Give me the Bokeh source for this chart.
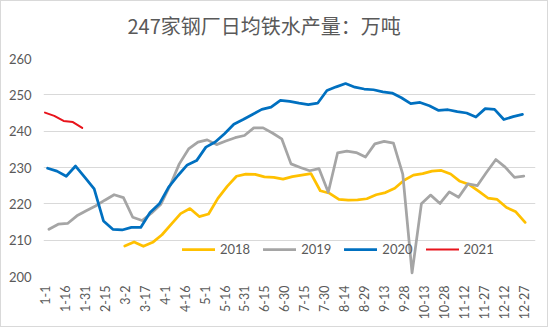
import math
from bokeh.plotting import figure
from bokeh.models import Range1d, FixedTicker, Legend, LegendItem
from bokeh.embed import file_html
from bokeh.resources import INLINE

title_text = "247家钢厂日均铁水产量：万吨"

x_labels = ["1-1", "1-16", "1-31", "2-15", "3-2", "3-17", "4-1", "4-16", "5-1",
            "5-16", "5-31", "6-15", "6-30", "7-15", "7-30", "8-14", "8-29", "9-13",
            "9-28", "10-13", "10-28", "11-12", "11-27", "12-12", "12-27"]
label_step_days = 15
y_ticks = [200, 210, 220, 230, 240, 250, 260]

# first weekly observation (day of year, 0 = Jan 1) for each series
start_day = {"2018": 60, "2019": 3, "2020": 2, "2021": 0}
week_days = 7

v2018 = [208.4, 209.5, 208.3, 209.4, 211.5, 214.4, 217.3, 218.7, 216.5, 217.2,
         221.5, 224.8, 227.6, 228.2, 228.1, 227.4, 227.3, 226.8, 227.5, 227.9,
         228.3, 223.6, 222.9, 221.2, 221.0, 221.1, 221.4, 222.5, 223.1, 224.3,
         226.5, 227.9, 228.3, 229.0, 229.2, 228.2, 226.2, 225.3, 223.5, 221.6,
         221.2, 219.0, 217.8, 214.9]
v2019 = [213.0, 214.4, 214.6, 216.7, 218.1, 219.4, 221.0, 222.5, 221.7, 216.3,
         215.4, 217.4, 219.8, 225.0, 231.0, 235.1, 237.0, 237.6, 236.3, 237.3,
         238.2, 238.8, 240.9, 240.9, 239.5, 237.9, 231.0, 230.0, 229.1, 229.7,
         223.2, 234.0, 234.5, 234.1, 232.9, 236.5, 237.2, 236.7, 228.2, 201.0,
         220.0, 222.4, 220.1, 223.3, 221.8, 225.5, 225.0, 228.7, 232.2, 230.1,
         227.3, 227.6]
v2020 = [229.8, 229.0, 227.6, 230.4, 227.3, 224.1, 215.3, 213.0, 212.8, 213.5,
         213.5, 217.6, 220.0, 224.6, 227.8, 230.7, 231.9, 235.6, 237.0, 239.3,
         241.9, 243.2, 244.6, 246.0, 246.6, 248.5, 248.2, 247.7, 247.3, 247.7,
         251.2, 252.2, 253.1, 252.1, 251.6, 251.4, 250.8, 250.5, 249.2, 247.6,
         247.9, 247.0, 245.7, 245.9, 245.4, 245.0, 243.9, 246.2, 246.0, 243.2,
         244.0, 244.6]
v2021 = [245.1, 244.2, 242.8, 242.5, 240.9]

series = [("2018", v2018, "#FFC000", 2.75),
          ("2019", v2019, "#A5A5A5", 2.75),
          ("2020", v2020, "#0070C0", 2.75),
          ("2021", v2021, "#E8141C", 2.0)]

FONT = "Lato"
GRAY = "#595959"

p = figure(width=548, height=327, output_backend="svg", toolbar_location=None,
           x_range=Range1d(-1.1, 368.8), y_range=Range1d(200, 260),
           min_border_left=42, min_border_right=14, min_border_top=57,
           min_border_bottom=52)
p.styles = {"border": "1px solid #d9d9d9"}
p.outline_line_color = None
p.background_fill_color = "white"
p.border_fill_color = "white"

p.title.text = title_text
p.title.align = "left"
p.title.text_font = "Noto Sans CJK SC"
p.title.text_font_size = "20px"
p.title.text_font_style = "normal"
p.title.text_color = GRAY
p.title.standoff = 14
p.title.offset = 84
p.title.padding = dict(top=0, right=0, bottom=12, left=0)

renderers = {}
for name, vals, color, lw in series:
    xs = [start_day[name] + week_days * i for i in range(len(vals))]
    renderers[name] = p.line(xs, vals, line_color=color, line_width=lw,
                             line_join="round", line_cap="round")

tick_pos = [label_step_days * i for i in range(len(x_labels))]
p.xaxis.ticker = FixedTicker(ticks=tick_pos)
p.xaxis.major_label_overrides = {t: lab for t, lab in zip(tick_pos, x_labels)}
p.xaxis.major_label_orientation = math.pi / 2
p.yaxis.ticker = FixedTicker(ticks=y_ticks)

for ax in (p.xaxis, p.yaxis):
    ax.axis_line_color = None
    ax.major_tick_line_color = None
    ax.minor_tick_line_color = None
    ax.major_tick_in = 0
    ax.major_tick_out = 0
    ax.minor_tick_out = 0
    ax.major_label_text_font = FONT
    ax.major_label_text_color = GRAY
    ax.major_label_text_font_size = "13px"
p.yaxis.major_label_standoff = 12
p.xaxis.major_label_standoff = 9
p.xaxis.major_label_text_font_size = "12.5px"

p.xgrid.grid_line_color = None
p.ygrid.ticker = FixedTicker(ticks=y_ticks)
p.ygrid.grid_line_color = "#d9d9d9"
p.ygrid.grid_line_width = 1

legend = Legend(items=[LegendItem(label=n, renderers=[renderers[n]]) for n, *_ in series],
                orientation="horizontal", location=(139, 19))
legend.border_line_color = None
legend.background_fill_alpha = 0
legend.padding = 0
legend.margin = 0
legend.spacing = 13
legend.glyph_width = 33
legend.glyph_height = 16
legend.label_height = 16
legend.label_standoff = 5
legend.label_text_font = FONT
legend.label_text_font_size = "13px"
legend.label_text_color = GRAY
p.add_layout(legend)

open("out.html", "w").write(file_html(p, INLINE))
